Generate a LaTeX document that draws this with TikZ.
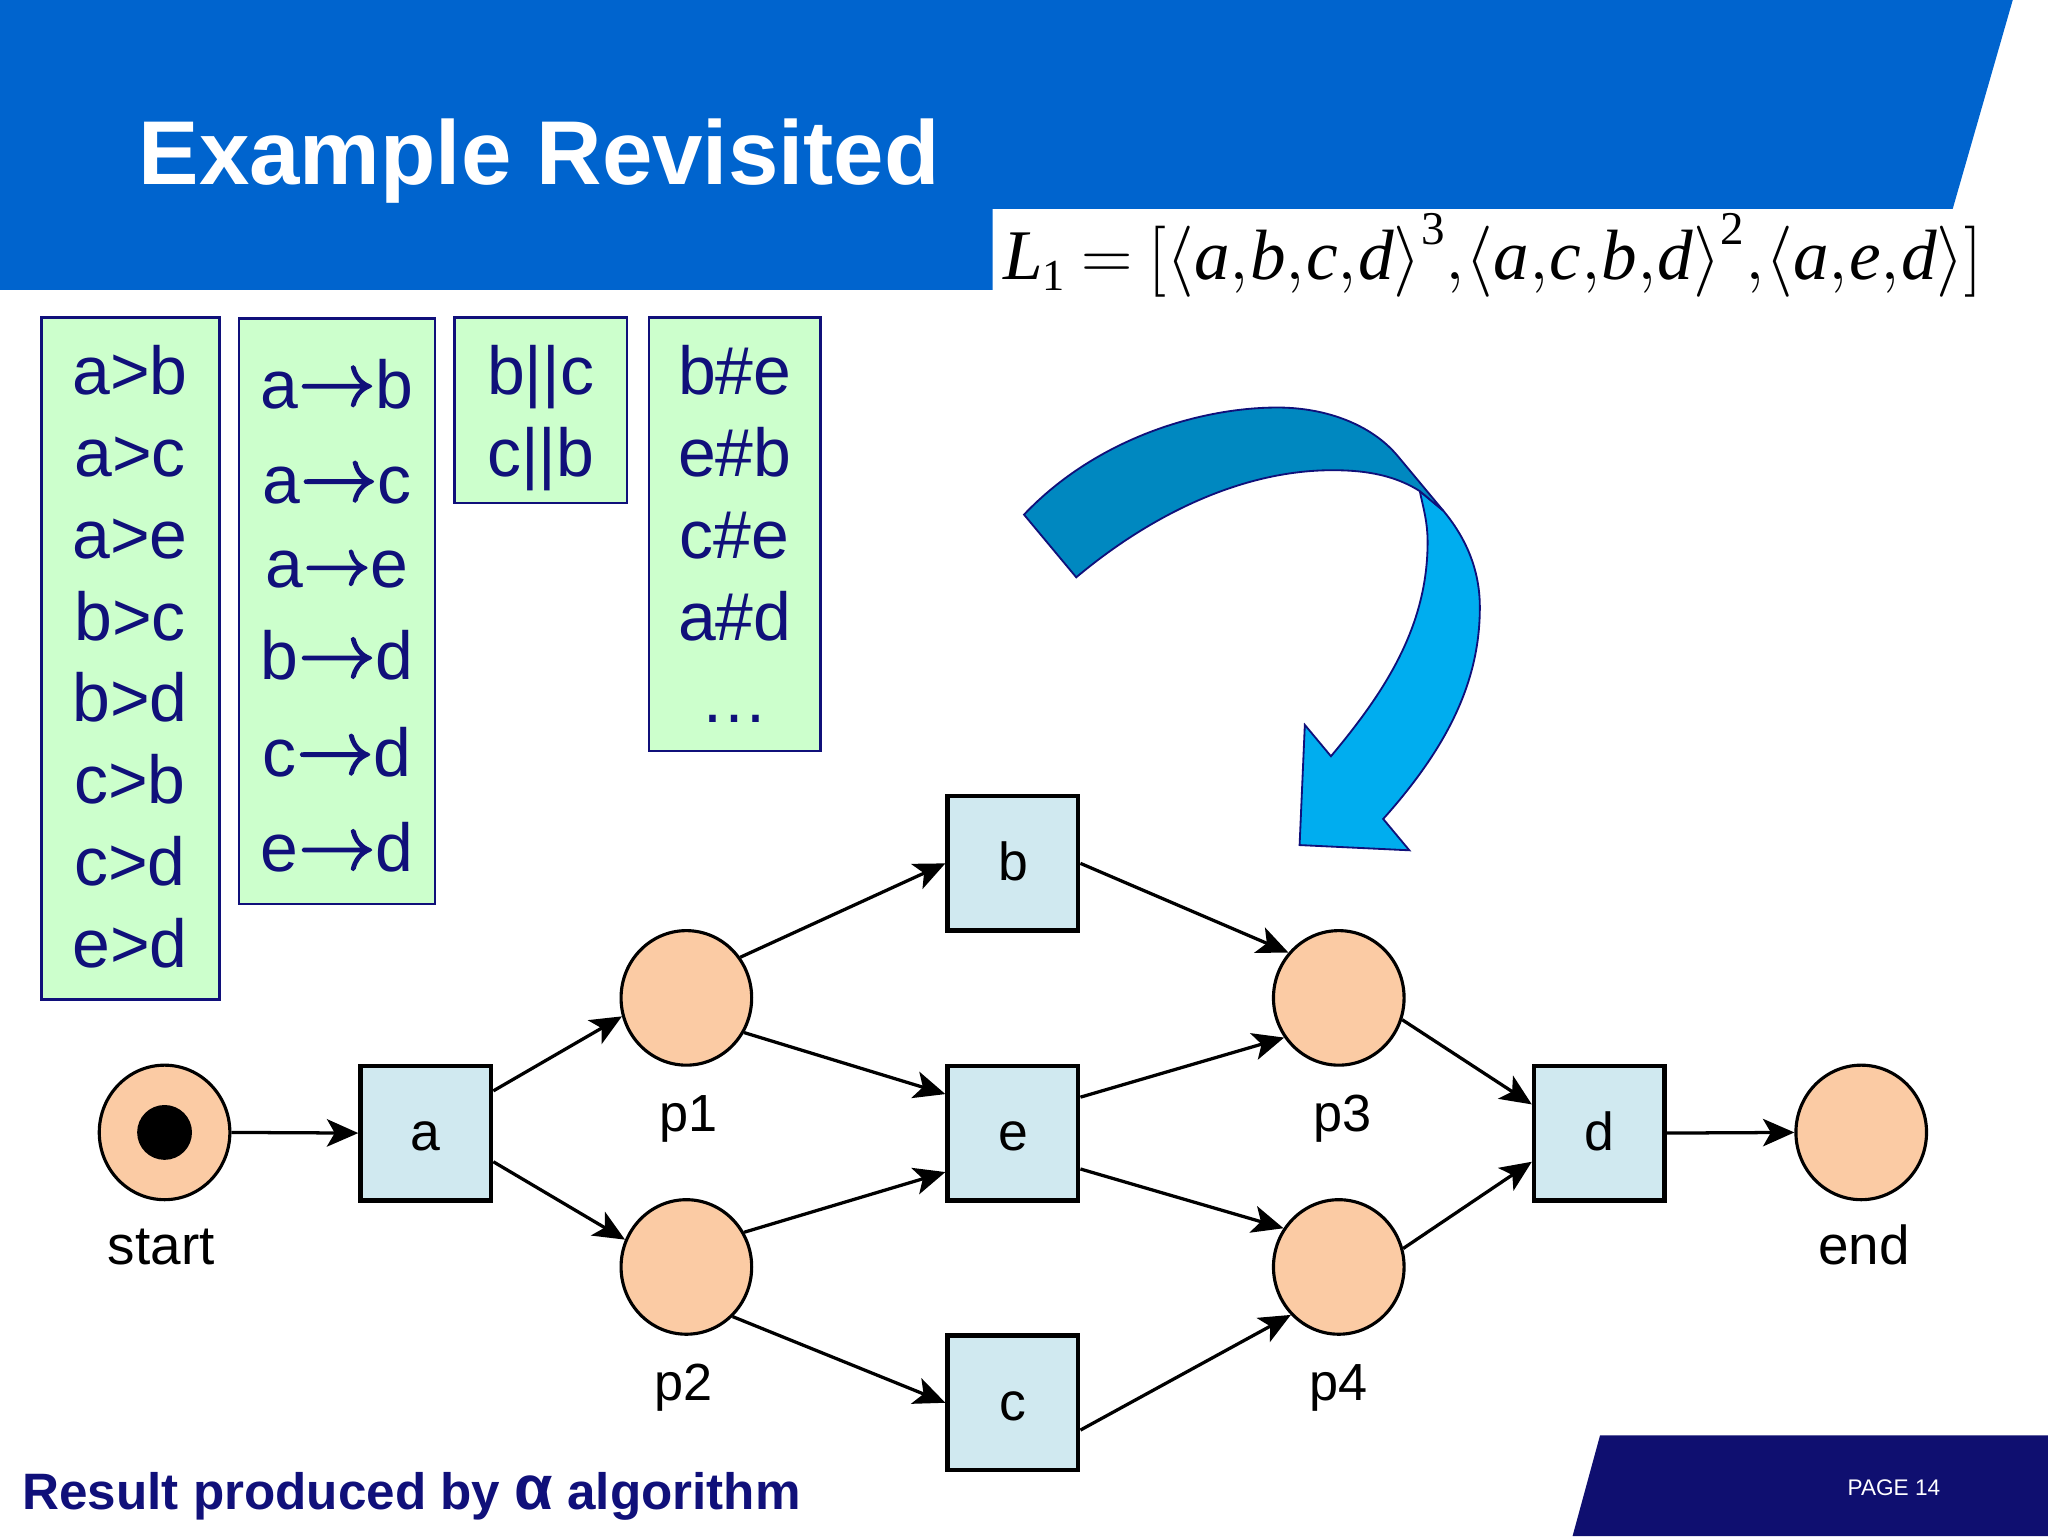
\RequirePackage{fix-cm}
\documentclass[tikz,border=0pt]{standalone}
\usepackage{fontspec}
\setmainfont{Liberation Sans}
\newfontfamily\tmsf{Liberation Serif}
\usetikzlibrary{arrows.meta,shapes.geometric}
\definecolor{hdrblue}{HTML}{0064CE}
\definecolor{navy}{HTML}{10107A}
\definecolor{foot}{HTML}{0F0F70}
\definecolor{lgreen}{HTML}{CCFFCC}
\definecolor{place}{HTML}{FBCBA4}
\definecolor{trans}{HTML}{D0E9F0}
\definecolor{dblue}{HTML}{0088C0}
\definecolor{lblue}{HTML}{00ADEF}
\newcommand{\fsz}[1]{\fontsize{#1}{#1}\selectfont}
\newcommand{\thick}[1]{\special{pdf:code 2 Tr 1.3 w}#1\special{pdf:code 0 Tr 0 w}}
\newcommand{\arwA}{{\fsz{59}\raisebox{2pt}{\thick{$\rightarrow$}}}}
\newcommand{\arwB}{{\fsz{51}\raisebox{2pt}{\thick{$\rightarrow$}}}}
\newcommand{\ivar}[1]{\mbox{\tmsf\itshape #1}}
\newcommand{\rnum}[1]{\raisebox{7pt}{\mbox{\fsz{36}\tmsf #1}}}
\newcommand{\snum}[1]{\mbox{\fsz{34}\tmsf #1}}
\newcommand{\cma}{{,}\kern.8pt}
\tikzset{
  pl/.style={ellipse,draw=black,line width=2.4pt,fill=place,minimum width=100pt,minimum height=103pt,inner sep=0pt},
  tr/.style={rectangle,draw=black,line width=3.4pt,fill=trans,minimum width=100pt,minimum height=103pt,inner sep=0pt,font=\fsz{41},text height=27pt,text depth=0pt},
  lab/.style={anchor=base,font=\fsz{42},inner sep=0pt},
  plab/.style={lab,font=\fsz{40}},
  grn/.style={rectangle,draw=navy,line width=2pt,fill=lgreen,inner sep=0pt,anchor=north west},
  ltxt/.style={anchor=base,text=navy,font=\fsz{52},inner sep=0pt},
  arr/.style={line width=2.5pt,-{Stealth[length=24pt,width=21pt,inset=6pt]},shorten <=0pt},
  barrow/.style={draw=navy,line width=1.4pt,line join=miter}
}
\begin{document}
\begin{tikzpicture}[x=1pt,y=-1pt]
\useasboundingbox (0,0) rectangle (1568,1176);
\fill[white] (0,0) rectangle (1568,1176);
% header
\fill[hdrblue] (0,0) -- (1541,0) -- (1495,160) -- (760,160) -- (760,222) -- (0,222) -- cycle;
\node[anchor=base west,inner sep=0pt,text=white,font=\bfseries\fsz{69.4}] (title) at (106,141) {Example Revisited};
\node[anchor=base west,inner sep=0pt,text=black,font=\fsz{54.5}] (log) at (768,214)
 {\tmsf$\ivar{L}_{\snum{1}}\mskip-1mu=\mskip-1mu[\langle\ivar{a}\cma\ivar{b}\cma\ivar{c}\cma\ivar{d}\rangle^{\rnum{3}}\cma\langle\ivar{a}\cma\ivar{c}\cma\ivar{b}\cma\ivar{d}\rangle^{\rnum{2}}\cma\langle\ivar{a}\cma\ivar{e}\cma\ivar{d}\rangle]$};
% green boxes
\node[grn,minimum width=136pt,minimum height=522pt] (g1) at (31,242) {};
\node[grn,minimum width=150pt,minimum height=448pt] (g2) at (182,243) {};
\node[grn,minimum width=132pt,minimum height=142pt] (g3) at (347,242) {};
\node[grn,minimum width=131pt,minimum height=332pt] (g4) at (496,242) {};
\node[ltxt] (t11) at (99.5,302) {a>b};
\node[ltxt] (t12) at (99.5,365) {a>c};
\node[ltxt] (t13) at (99.5,427.5) {a>e};
\node[ltxt] (t14) at (99.5,490) {b>c};
\node[ltxt] (t15) at (99.5,552.5) {b>d};
\node[ltxt] (t16) at (99.5,615) {c>b};
\node[ltxt] (t17) at (99.5,678) {c>d};
\node[ltxt] (t18) at (99.5,741) {e>d};
\node[ltxt] (t21) at (258,312.5) {a\arwA b};
\node[ltxt] (t22) at (258,385.5) {a\arwA c};
\node[ltxt] (t23) at (258,449.5) {a\arwB e};
\node[ltxt] (t24) at (258,520.5) {b\arwA d};
\node[ltxt] (t25) at (258,594.5) {c\arwA d};
\node[ltxt] (t26) at (258,667.5) {e\arwA d};
\node[ltxt] (t31) at (414,302) {b||c};
\node[ltxt] (t32) at (414,365) {c||b};
\node[ltxt] (t41) at (562.5,302) {b\#e};
\node[ltxt] (t42) at (562.5,365) {e\#b};
\node[ltxt] (t43) at (562.5,427.5) {c\#e};
\node[ltxt] (t44) at (562.5,490) {a\#d};
\node[ltxt] (t45) at (562.5,553) {…};
% curved arrow
\path[barrow,fill=lblue] (1105,391) .. controls (1125,415) and (1133,440) .. (1133,465)
  .. controls (1133,520) and (1110,570) .. (1059,627) -- (1079,651) -- (995,647) -- (999,555) -- (1019,579)
  .. controls (1060,530) and (1093,480) .. (1093,415) .. controls (1093,400) and (1090,390) .. (1087,376) -- cycle;
\path[barrow,fill=dblue] (784,394) .. controls (840,335) and (920,312) .. (978,312)
  .. controls (1015,312) and (1050,325) .. (1070,349) -- (1105,391) -- (1087,376)
  .. controls (1065,362) and (1040,360) .. (1020,360) .. controls (950,360) and (880,395) .. (824,442) -- cycle;
% net
\node[pl] (start) at (126,867) {};
\node[circle,fill=black,minimum size=42pt,inner sep=0pt] (token) at (126,867) {};
\node[pl] (p1) at (525.5,764) {};
\node[pl] (p2) at (525.5,970) {};
\node[pl] (p3) at (1025,764) {};
\node[pl] (p4) at (1025,970) {};
\node[pl] (end) at (1425,867) {};
\node[tr] (a) at (326,867.5) {a};
\node[tr] (b) at (775.5,661) {b};
\node[tr] (e) at (775.5,867.5) {e};
\node[tr] (c) at (775.5,1074) {c};
\node[tr] (d) at (1224.5,867.5) {d};
\node[lab] (lstart) at (123.5,968) {start};
\node[plab] (lp1) at (527,866) {p1};
\node[plab] (lp2) at (523,1072) {p2};
\node[plab] (lp3) at (1028,866) {p3};
\node[plab] (lp4) at (1025,1072) {p4};
\node[lab] (lend) at (1427,968) {end};
\draw[arr] (start.east) -- (a.west);
\draw[arr] (a.32.6) -- (p1.196.6);
\draw[arr] (a.-23.7) -- (p2.156.5);
\draw[arr] (p1.37) -- (b.west);
\draw[arr] (p1.-31.5) -- (e.150);
\draw[arr] (p2.31.5) -- (e.210);
\draw[arr] (p2.-47) -- (c.west);
\draw[arr] (b.east) -- (p3.138.3);
\draw[arr] (e.28) -- (p3.216);
\draw[arr] (e.-28) -- (p4.145);
\draw[arr] (c.-22) -- (p4.225);
\draw[arr] (p3.-19.5) -- (d.157);
\draw[arr] (p4.16) -- (d.203);
\draw[arr] (d.east) -- (end.west);
% footer
\fill[foot] (1225,1099) -- (1568,1099) -- (1568,1176) -- (1204,1176) -- cycle;
\node[anchor=base,inner sep=0pt,text=white,font=\fsz{17.3}] (page) at (1450,1145) {PAGE 14};
\node[anchor=base west,inner sep=0pt,text=navy,font=\bfseries\fsz{39.2}] (res) at (17,1155.5) {Result produced by {\fsz{48}α} algorithm};
\end{tikzpicture}
\end{document}
